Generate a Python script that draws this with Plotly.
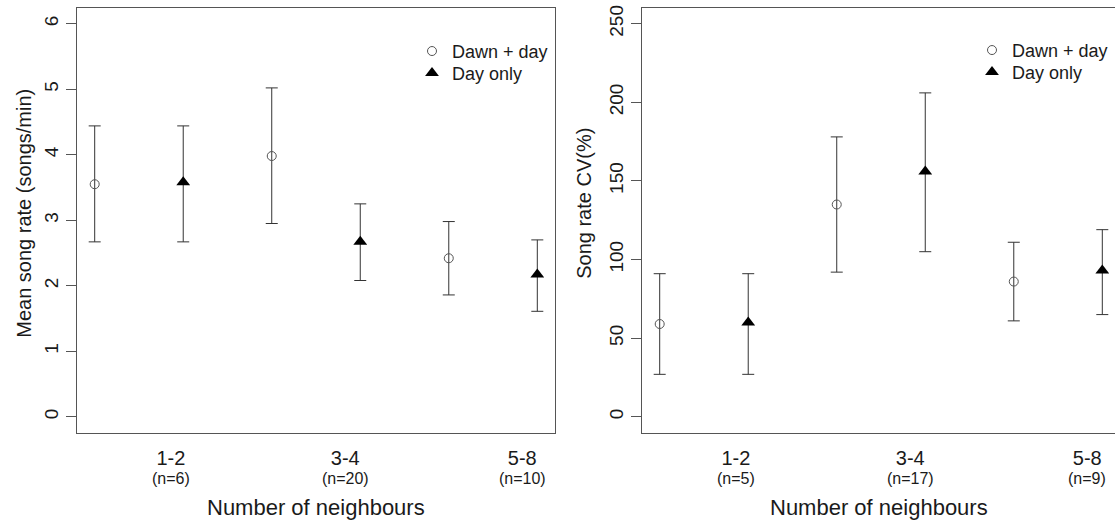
import plotly.graph_objects as go

# ---------------- data ----------------
positions = [1, 2, 3, 4, 5, 6]          # plotting slots (pairs per neighbour class)
series = ["Dawn + day", "Day only", "Dawn + day", "Day only", "Dawn + day", "Day only"]

group_labels = ["1-2", "3-4", "5-8"]
group_label_pos = [1.86, 3.83, 5.83]
n_left = ["(n=6)", "(n=20)", "(n=10)"]
n_right = ["(n=5)", "(n=17)", "(n=9)"]

# left panel: mean song rate (songs/min)
rate_mean = [3.55, 3.58, 3.98, 2.67, 2.42, 2.17]
rate_upper = [4.44, 4.44, 5.02, 3.25, 2.98, 2.70]
rate_lower = [2.67, 2.67, 2.95, 2.08, 1.86, 1.61]

# right panel: song rate CV (%)
cv_mean = [59, 60, 135, 156, 86, 93]
cv_upper = [91, 91, 178, 206, 111, 119]
cv_lower = [27, 27, 92, 105, 61, 65]

left_yticks = [0, 1, 2, 3, 4, 5, 6]
right_yticks = [0, 50, 100, 150, 200, 250]

# ---------------- style ----------------
W, H = 1115, 520
FONT = "Liberation Sans, Arial, sans-serif"
TXT = "#1a1a1a"
AX = "#555555"

def px_x(p):
    return p / W

def px_y(p):
    return 1 - p / H

fig = go.Figure()

styles = {
    "Dawn + day": dict(symbol="circle-open", size=9, color="#555555", line=dict(width=1, color="#555555")),
    "Day only": dict(symbol="triangle-up", size=12, color="black", line=dict(width=0)),
}

def add_panel(mean, upper, lower, xa, ya, legends):
    for name in ["Dawn + day", "Day only"]:
        idx = [i for i, s in enumerate(series) if s == name]
        xs = [positions[i] for i in idx]
        ys = [mean[i] for i in idx]
        up = [upper[i] - mean[i] for i in idx]
        dn = [mean[i] - lower[i] for i in idx]
        fig.add_trace(go.Scatter(
            x=xs, y=ys, mode="markers", name=name,
            marker=styles[name],
            error_y=dict(type="data", array=up, arrayminus=dn, visible=True,
                         color="#333333", thickness=1, width=6),
            xaxis=xa, yaxis=ya, legend=legends[name], showlegend=True,
        ))

add_panel(rate_mean, rate_upper, rate_lower, "x", "y",
          {"Dawn + day": "legend", "Day only": "legend3"})
add_panel(cv_mean, cv_upper, cv_lower, "x2", "y2",
          {"Dawn + day": "legend2", "Day only": "legend4"})

xcommon = dict(
    tickmode="array", tickvals=group_label_pos, ticktext=group_labels,
    ticks="", showgrid=False, zeroline=False,
    showline=True, linecolor=AX, linewidth=1, mirror=True,
    tickfont=dict(family=FONT, size=20, color=TXT),
    ticklabelstandoff=7,
)
ycommon = dict(
    tickmode="array", ticks="outside", ticklen=10, tickcolor=AX, tickwidth=1,
    showgrid=False, zeroline=False, showline=True, linecolor=AX, linewidth=1,
    tickangle=-90, tickfont=dict(family=FONT, size=19, color=TXT),
)

legend_style = dict(xanchor="left", yanchor="top",
                    font=dict(family=FONT, size=18, color=TXT), bgcolor="rgba(0,0,0,0)",
                    tracegroupgap=0, itemsizing="trace")

y_dom = [px_y(432), px_y(5)]
fig.update_layout(
    width=W, height=H,
    margin=dict(l=0, r=0, t=0, b=0),
    paper_bgcolor="white", plot_bgcolor="white",
    font=dict(family=FONT, color=TXT),
    xaxis=dict(domain=[px_x(77), px_x(555)], range=[0.8, 6.2], **xcommon),
    xaxis2=dict(domain=[px_x(642), 1.0], range=[0.8, 0.8 + 473 / (478 / 5.4)],
                anchor="y2", **xcommon),
    yaxis=dict(domain=y_dom, range=[-0.24, 6.24], tickvals=left_yticks, mirror=True, **ycommon),
    yaxis2=dict(domain=y_dom, range=[-10, 260], tickvals=right_yticks, anchor="x2",
                mirror=False, **ycommon),
    legend=dict(x=px_x(412), y=px_y(30), **legend_style),
    legend3=dict(x=px_x(412), y=px_y(52), **legend_style),
    legend2=dict(x=px_x(972), y=px_y(29), **legend_style),
    legend4=dict(x=px_x(972), y=px_y(51), **legend_style),
)

annotations = []
for xr, labels in [("x", n_left), ("x2", n_right)]:
    for pos, lab in zip(group_label_pos, labels):
        annotations.append(dict(x=pos, xref=xr, y=px_y(478), yref="paper",
                                text=lab, showarrow=False, xanchor="center", yanchor="middle",
                                font=dict(family=FONT, size=16, color=TXT)))

annotations += [
    dict(x=px_x(316), y=px_y(507), xref="paper", yref="paper", text="Number of neighbours",
         showarrow=False, xanchor="center", yanchor="middle",
         font=dict(family=FONT, size=22, color=TXT)),
    dict(x=px_x(879), y=px_y(507), xref="paper", yref="paper", text="Number of neighbours",
         showarrow=False, xanchor="center", yanchor="middle",
         font=dict(family=FONT, size=22, color=TXT)),
    dict(x=px_x(24), y=px_y(212), xref="paper", yref="paper", text="Mean song rate (songs/min)",
         showarrow=False, xanchor="center", yanchor="middle", textangle=-90,
         font=dict(family=FONT, size=20, color=TXT)),
    dict(x=px_x(584), y=px_y(202), xref="paper", yref="paper", text="Song rate CV(%)",
         showarrow=False, xanchor="center", yanchor="middle", textangle=-90,
         font=dict(family=FONT, size=20, color=TXT)),
]
fig.update_layout(annotations=annotations)

fig.write_html("out.html")
